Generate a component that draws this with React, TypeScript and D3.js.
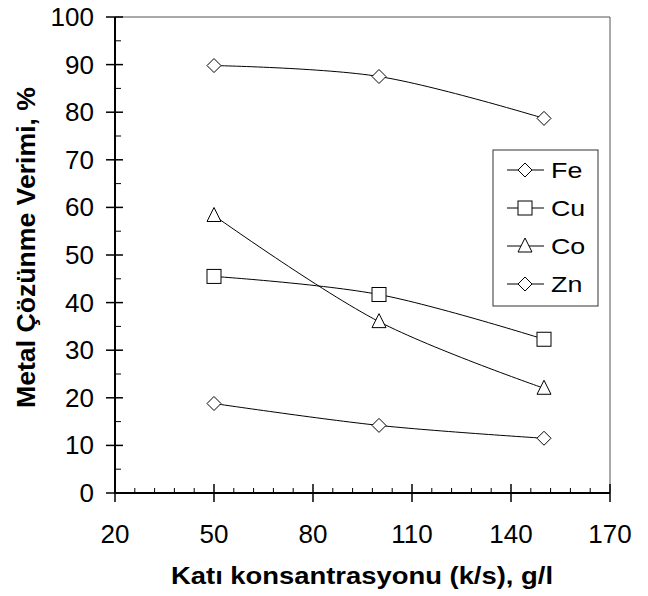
import React from "react";
import * as d3 from "d3";

const xValues = [50, 100, 150];
const seriesNames = ["Fe", "Cu", "Co", "Zn"];
const feValues = [89.8, 87.5, 78.7];
const cuValues = [45.5, 41.7, 32.3];
const coValues = [58.3, 36.0, 22.0];
const znValues = [18.8, 14.2, 11.5];
const xTicks = [20, 50, 80, 110, 140, 170];
const yTicks = [0, 10, 20, 30, 40, 50, 60, 70, 80, 90, 100];

const markerShapes = ["diamond", "square", "triangle", "diamond"];

const W = 648;
const H = 596;
const left = 115;
const right = 610;
const top = 17;
const bottom = 493;

function Marker({ shape, x, y }: { shape: string; x: number; y: number }) {
  if (shape === "square") {
    return <rect x={x - 7} y={y - 7} width={14} height={14} fill="white" stroke="black" strokeWidth={1} />;
  }
  if (shape === "triangle") {
    return <path d={`M${x},${y - 8}L${x + 7},${y + 6}L${x - 7},${y + 6}Z`} fill="white" stroke="black" strokeWidth={1} />;
  }
  return <path d={`M${x},${y - 7}L${x + 7},${y}L${x},${y + 7}L${x - 7},${y}Z`} fill="white" stroke="black" strokeWidth={1} />;
}

export default function App() {
  const x = d3.scaleLinear().domain([20, 170]).range([left, right]);
  const y = d3.scaleLinear().domain([0, 100]).range([bottom, top]);
  const series = [feValues, cuValues, coValues, znValues];
  const lineGen = d3
    .line<number>()
    .x((_, i) => x(xValues[i]))
    .y((d) => y(d))
    .curve(d3.curveCatmullRom.alpha(0.5));

  const yMinor = d3.range(5, 100, 10);
  const xMinor = d3.range(20, 170, 6).filter((v) => (v - 20) % 30 !== 0);
  const font = "'Liberation Sans', Arial, sans-serif";

  // legend rows (pixel centres)
  const legendY = [170, 208, 246, 284];

  return (
    <svg width={W} height={H} style={{ position: "absolute", left: 0, top: 0 }} fontFamily={font}>
      <rect width={W} height={H} fill="white" />
      {/* plot frame */}
      <line x1={left} x2={right} y1={top} y2={top} stroke="#555" strokeWidth={1} />
      <line x1={right} x2={right} y1={top} y2={bottom} stroke="#555" strokeWidth={1} />

      {/* series */}
      {series.map((vals, si) => (
        <g key={si}>
          <path d={lineGen(vals) || ""} fill="none" stroke="black" strokeWidth={1} />
          {vals.map((v, i) => (
            <Marker key={i} shape={markerShapes[si]} x={x(xValues[i])} y={y(v)} />
          ))}
        </g>
      ))}

      {/* y axis */}
      <line x1={left} x2={left} y1={top} y2={bottom} stroke="black" strokeWidth={2} />
      {yTicks.map((t) => (
        <g key={t}>
          <line x1={left - 9} x2={left + 8} y1={y(t)} y2={y(t)} stroke="black" strokeWidth={1.5} />
          <text x={left - 21} y={y(t) + 9} textAnchor="end" fontSize={26}>
            {t}
          </text>
        </g>
      ))}
      {yMinor.map((t) => (
        <line key={t} x1={left} x2={left + 6} y1={y(t)} y2={y(t)} stroke="black" strokeWidth={1} />
      ))}

      {/* x axis */}
      <line x1={left} x2={right} y1={bottom} y2={bottom} stroke="black" strokeWidth={2} />
      {xTicks.map((t) => (
        <g key={t}>
          <line x1={x(t)} x2={x(t)} y1={bottom - 9} y2={bottom + 9} stroke="black" strokeWidth={1.5} />
          <text x={x(t)} y={bottom + 49.5} textAnchor="middle" fontSize={26}>
            {t}
          </text>
        </g>
      ))}
      {xMinor.map((t) => (
        <line key={t} x1={x(t)} x2={x(t)} y1={bottom - 5} y2={bottom} stroke="black" strokeWidth={1} />
      ))}

      {/* titles */}
      <text
        x={171}
        y={583.5}
        fontSize={24}
        fontWeight="bold"
        textLength={382}
        lengthAdjust="spacingAndGlyphs"
      >
        Katı konsantrasyonu (k/s), g/l
      </text>
      <text
        transform={`translate(35,408) rotate(-90)`}
        fontSize={26}
        fontWeight="bold"
        textLength={321}
        lengthAdjust="spacingAndGlyphs"
      >
        Metal Çözünme Verimi, %
      </text>

      {/* legend */}
      <rect x={493} y={150} width={105} height={156} fill="white" stroke="#333" strokeWidth={1} />
      {seriesNames.map((name, i) => (
        <g key={name}>
          <line x1={507} x2={544} y1={legendY[i]} y2={legendY[i]} stroke="black" strokeWidth={1} />
          <Marker shape={markerShapes[i]} x={525} y={legendY[i]} />
          <text transform={`translate(551,${legendY[i] + 8}) scale(1.22,1)`} fontSize={22}>
            {name}
          </text>
        </g>
      ))}
    </svg>
  );
}
